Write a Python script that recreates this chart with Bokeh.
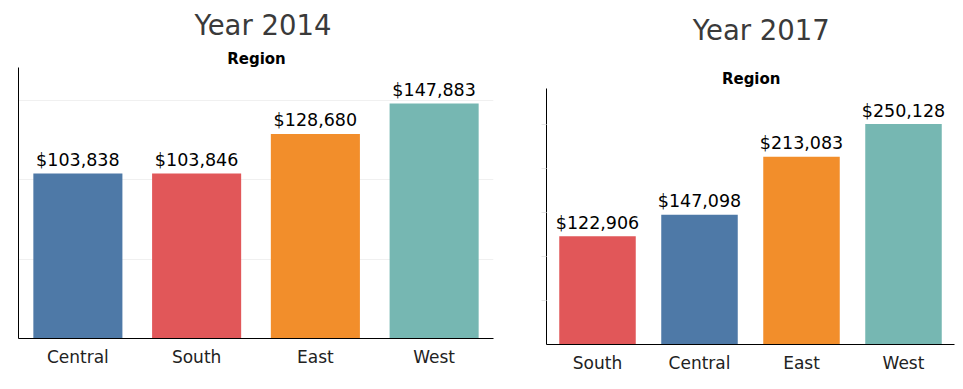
from bokeh.plotting import figure
from bokeh.layouts import row, column
from bokeh.models import ColumnDataSource, FactorRange, Range1d, Label, FixedTicker, CustomJSTickFormatter
from bokeh.core.properties import value
from bokeh.embed import file_html
from bokeh.resources import INLINE

# ---- data ----
regions_2014 = ["Central", "South", "East", "West"]
sales_2014 = [103838, 103846, 128680, 147883]
regions_2017 = ["South", "Central", "East", "West"]
sales_2017 = [122906, 147098, 213083, 250128]
region_colors = {"Central": "#4E79A7", "South": "#E15759", "East": "#F28E2B", "West": "#76B7B2"}
y_ticks_2014 = [50000, 100000, 150000]
y_ticks_2017 = [50000, 100000, 150000, 200000, 250000]
axis_title = "Region"

FONT = "DejaVu Sans"


def make_panel(title, cats, vals, ticks, axis_top, view_top, width, height, bl, br, bb,
               show_grid, show_ticks, region_xy, title_xy):
    src = ColumnDataSource(dict(
        cat=cats, val=vals,
        color=[region_colors[c] for c in cats],
        lbl=["${:,}".format(v) for v in vals],
    ))
    p = figure(x_range=FactorRange(*cats, range_padding=0), y_range=Range1d(0, view_top),
               width=width, height=height, output_backend="svg", toolbar_location=None,
               min_border_left=bl, min_border_right=br, min_border_top=0, min_border_bottom=bb,
               title=None)
    p.outline_line_color = None
    p.background_fill_color = "white"
    p.border_fill_color = "white"

    p.vbar(x="cat", top="val", width=0.75, bottom=0, color="color", line_color=None, source=src)
    p.text(x="cat", y="val", text="lbl", source=src, text_align="center",
           text_baseline="alphabetic", y_offset=-13.5, text_font=value(FONT),
           text_font_size="17.5px", text_color="#000000")

    # x axis
    p.xaxis.axis_line_color = "#000000"
    p.xaxis.axis_line_width = 1
    p.xaxis.major_tick_line_color = None
    p.xaxis.major_tick_out = 0
    p.xaxis.major_tick_in = 0
    p.xaxis.minor_tick_line_color = None
    p.xaxis.major_label_text_font = FONT
    p.xaxis.major_label_text_font_size = "17px"
    p.xaxis.major_label_text_color = "#222222"
    p.xaxis.major_label_standoff = 8
    p.xgrid.grid_line_color = None

    # y axis
    p.yaxis.ticker = FixedTicker(ticks=ticks)
    p.yaxis.formatter = CustomJSTickFormatter(code="return ''")
    p.yaxis.bounds = (0, axis_top)
    p.yaxis.axis_line_color = "#000000"
    p.yaxis.major_label_standoff = 0
    p.yaxis.minor_tick_line_color = None
    if show_ticks:
        p.yaxis.major_tick_out = 5
        p.yaxis.major_tick_in = 0
        p.yaxis.major_tick_line_color = "#e6e6e6"
    else:
        p.yaxis.major_tick_out = 0
        p.yaxis.major_tick_in = 0
        p.yaxis.major_tick_line_color = None
    p.ygrid.ticker = FixedTicker(ticks=ticks)
    p.ygrid.grid_line_color = "#f0f0f0" if show_grid else None

    p.add_layout(Label(x=region_xy[0], y=region_xy[1], x_units="screen", y_units="screen",
                       text=axis_title, text_align="center", text_baseline="alphabetic",
                       text_font=FONT, text_font_style="bold", text_font_size="15px",
                       text_color="#000000"))
    p.add_layout(Label(x=title_xy[0], y=title_xy[1], x_units="screen", y_units="screen",
                       text=title, text_align="center", text_baseline="alphabetic",
                       text_font=FONT, text_font_size="27.5px", text_color="#3a3a3a"))
    return p


# left: frame 18..493 x 0..338 ; axis top at y=67
p1 = make_panel("Year 2014", regions_2014, sales_2014, y_ticks_2014, 170500, 212653,
                528, 385, 18, 35, 47, True, False, (238, 279.7), (244.5, 313.3))
# right: frame 546..954 x 0..344 ; axis top at y=88
p2 = make_panel("Year 2017", regions_2017, sales_2017, y_ticks_2017, 290500, 390359,
                435, 385, 18, 9, 41, False, True, (204.7, 265.5), (214.8, 315))

layout = row(column(p1), column(p2), spacing=0)
open("out.html", "w").write(file_html(layout, INLINE))
